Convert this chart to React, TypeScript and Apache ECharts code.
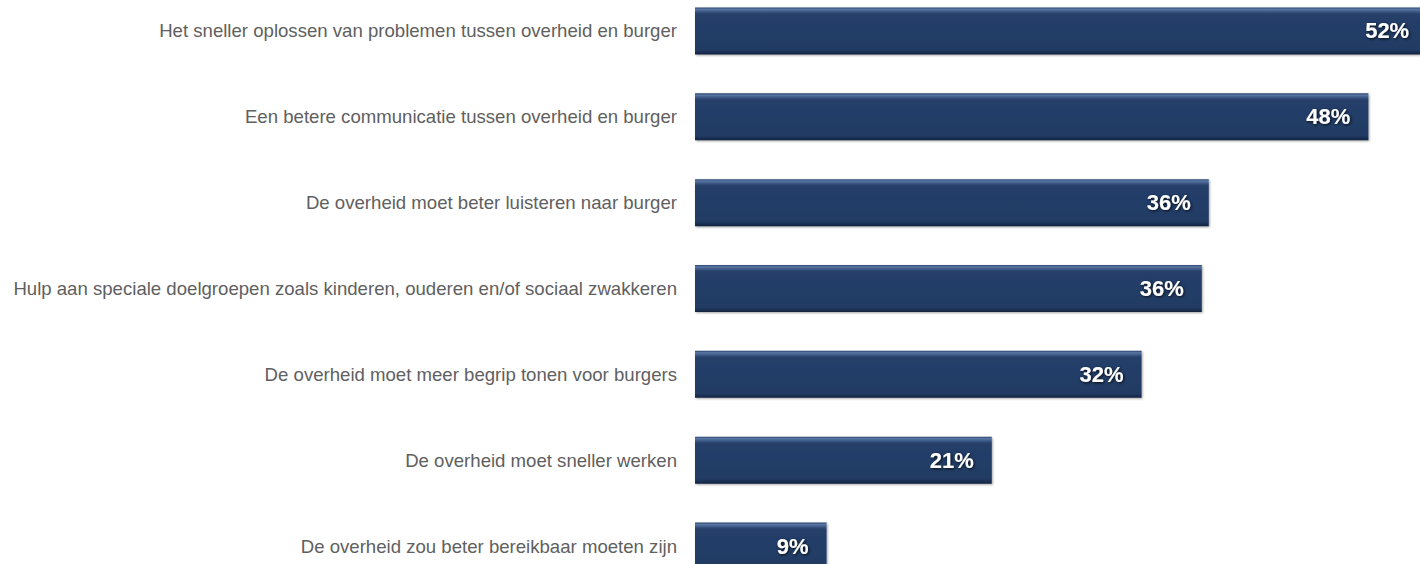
import React, { useEffect, useRef } from "react";
import * as echarts from "echarts";

const categories = [
  "Het sneller oplossen van problemen tussen overheid en burger",
  "Een betere communicatie tussen overheid en burger",
  "De overheid moet beter luisteren naar burger",
  "Hulp aan speciale doelgroepen zoals kinderen, ouderen en/of sociaal zwakkeren",
  "De overheid moet meer begrip tonen voor burgers",
  "De overheid moet sneller werken",
  "De overheid zou beter bereikbaar moeten zijn",
];
const values = [52.3, 48.1, 36.7, 36.2, 31.9, 21.2, 9.4];
const valueLabels = ["52%", "48%", "36%", "36%", "32%", "21%", "9%"];

export default function App() {
  const ref = useRef<HTMLDivElement>(null);
  useEffect(() => {
    if (!ref.current) return;
    const chart = echarts.init(ref.current, null, { renderer: "svg" });
    chart.setOption({
      animation: false,
      grid: { left: 695, top: 0, width: 756, bottom: 0, containLabel: false },
      xAxis: {
        type: "value",
        min: 0,
        max: 54,
        show: false,
      },
      yAxis: {
        type: "category",
        data: categories,
        inverse: true,
        axisLine: { show: false },
        axisTick: { show: false },
        splitLine: { show: false },
        axisLabel: {
          color: "#606060",
          fontFamily: "Liberation Sans, Arial, sans-serif",
          fontSize: 18.6,
          margin: 18,
        },
      },
      series: [
        {
          type: "bar",
          data: values,
          barWidth: 47,
          clip: false,
          itemStyle: {
            color: new echarts.graphic.LinearGradient(0, 0, 0, 1, [
              { offset: 0, color: "#2a4572" },
              { offset: 0.04, color: "#5a76a2" },
              { offset: 0.09, color: "#3d5885" },
              { offset: 0.14, color: "#253f69" },
              { offset: 0.9, color: "#223b64" },
              { offset: 0.95, color: "#1b2f52" },
              { offset: 1, color: "#14233e" },
            ]),
            shadowColor: "rgba(0,0,0,0.35)",
            shadowBlur: 2,
            shadowOffsetX: 1,
            shadowOffsetY: 1,
          },
          label: {
            show: true,
            position: "insideRight",
            distance: 18,
            formatter: (p: any) => valueLabels[p.dataIndex],
            color: "#ffffff",
            fontFamily: "Liberation Sans, Arial, sans-serif",
            fontWeight: "bold",
            fontSize: 22,
            textShadowColor: "rgba(0,0,0,0.8)",
            textShadowBlur: 3,
            textShadowOffsetX: 1,
            textShadowOffsetY: 1,
          },
        },
      ],
    });
    return () => chart.dispose();
  }, []);
  return (
    <div
      ref={ref}
      style={{ position: "fixed", left: 0, top: -12.4, width: 1460, height: 600.6, background: "#ffffff" }}
    />
  );
}
